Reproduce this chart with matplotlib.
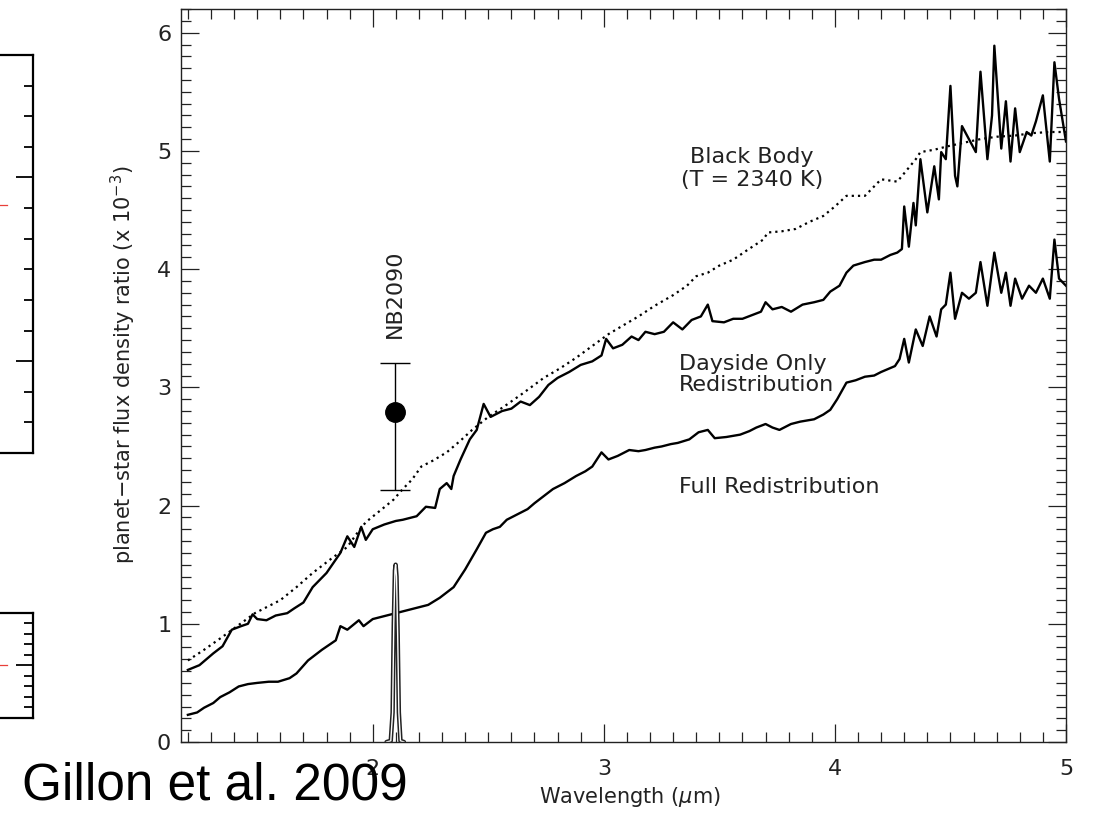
import matplotlib

matplotlib.use("Agg")

import matplotlib.pyplot as plt
from matplotlib.ticker import MultipleLocator, NullFormatter

# Model spectra (planet/star flux density ratio, units of 1e-3) vs wavelength (micron)
DAY_WL = [1.20, 1.25, 1.31, 1.35, 1.39, 1.43, 1.46, 1.48, 1.50, 1.54, 1.58, 1.63, 1.66,
          1.70, 1.74, 1.80, 1.86, 1.89, 1.92, 1.95, 1.97, 2.00, 2.05, 2.10, 2.13, 2.19,
          2.23, 2.27, 2.29, 2.32, 2.34, 2.35, 2.38, 2.42, 2.45, 2.48, 2.51, 2.56, 2.60,
          2.64, 2.68, 2.72, 2.76, 2.80, 2.85, 2.90, 2.95, 2.99, 3.01, 3.04, 3.08, 3.12,
          3.15, 3.18, 3.22, 3.26, 3.30, 3.34, 3.38, 3.42, 3.45, 3.47, 3.52, 3.56, 3.60,
          3.64, 3.68, 3.70, 3.73, 3.77, 3.81, 3.86, 3.91, 3.95, 3.98, 4.02, 4.05, 4.08,
          4.13, 4.17, 4.20, 4.24, 4.27, 4.29, 4.30, 4.32, 4.34, 4.35, 4.37, 4.40, 4.43,
          4.45, 4.46, 4.48, 4.50, 4.52, 4.53, 4.55, 4.58, 4.61, 4.63, 4.66, 4.68, 4.69,
          4.72, 4.74, 4.76, 4.78, 4.80, 4.83, 4.85, 4.87, 4.90, 4.93, 4.95, 4.97, 5.00]
DAY_RATIO = [0.61, 0.65, 0.75, 0.81, 0.95, 0.98, 1.00, 1.08, 1.04, 1.03, 1.07, 1.09, 1.13,
             1.18, 1.31, 1.43, 1.60, 1.74, 1.65, 1.82, 1.71, 1.80, 1.84, 1.87, 1.88, 1.91,
             1.99, 1.98, 2.14, 2.19, 2.14, 2.25, 2.39, 2.56, 2.64, 2.86, 2.75, 2.80, 2.82,
             2.88, 2.85, 2.92, 3.02, 3.08, 3.13, 3.19, 3.22, 3.27, 3.41, 3.33, 3.36, 3.43,
             3.40, 3.47, 3.45, 3.47, 3.55, 3.49, 3.57, 3.60, 3.70, 3.56, 3.55, 3.58, 3.58,
             3.61, 3.64, 3.72, 3.66, 3.68, 3.64, 3.70, 3.72, 3.74, 3.81, 3.86, 3.97, 4.03,
             4.06, 4.08, 4.08, 4.12, 4.14, 4.17, 4.53, 4.19, 4.56, 4.37, 4.93, 4.48, 4.87,
             4.59, 4.99, 4.93, 5.55, 4.79, 4.70, 5.21, 5.10, 4.99, 5.67, 4.93, 5.30, 5.89,
             5.02, 5.42, 4.91, 5.36, 4.99, 5.16, 5.13, 5.25, 5.47, 4.91, 5.75, 5.44, 5.08]

FULL_WL = [1.20, 1.24, 1.27, 1.31, 1.34, 1.38, 1.42, 1.46, 1.50, 1.55, 1.59, 1.64, 1.67,
           1.72, 1.78, 1.84, 1.86, 1.89, 1.94, 1.96, 2.00, 2.04, 2.10, 2.16, 2.20, 2.24,
           2.29, 2.35, 2.40, 2.45, 2.49, 2.52, 2.55, 2.58, 2.61, 2.64, 2.67, 2.70, 2.74,
           2.78, 2.83, 2.88, 2.92, 2.95, 2.99, 3.02, 3.06, 3.11, 3.15, 3.18, 3.22, 3.25,
           3.29, 3.32, 3.37, 3.41, 3.45, 3.48, 3.53, 3.59, 3.63, 3.66, 3.70, 3.73, 3.76,
           3.81, 3.85, 3.91, 3.95, 3.98, 4.01, 4.05, 4.09, 4.13, 4.17, 4.20, 4.26, 4.28,
           4.30, 4.32, 4.35, 4.38, 4.41, 4.44, 4.46, 4.48, 4.50, 4.52, 4.55, 4.58, 4.61,
           4.63, 4.66, 4.69, 4.72, 4.74, 4.76, 4.78, 4.81, 4.84, 4.87, 4.90, 4.93, 4.95,
           4.97, 5.00]
FULL_RATIO = [0.23, 0.25, 0.29, 0.33, 0.38, 0.42, 0.47, 0.49, 0.50, 0.51, 0.51, 0.54, 0.58,
              0.69, 0.78, 0.86, 0.98, 0.95, 1.03, 0.98, 1.04, 1.06, 1.09, 1.12, 1.14, 1.16,
              1.22, 1.31, 1.46, 1.63, 1.77, 1.80, 1.82, 1.88, 1.91, 1.94, 1.97, 2.02, 2.08,
              2.14, 2.19, 2.25, 2.29, 2.33, 2.45, 2.39, 2.42, 2.47, 2.46, 2.47, 2.49, 2.50,
              2.52, 2.53, 2.56, 2.62, 2.64, 2.57, 2.58, 2.60, 2.63, 2.66, 2.69, 2.66, 2.64,
              2.69, 2.71, 2.73, 2.77, 2.81, 2.90, 3.04, 3.06, 3.09, 3.10, 3.13, 3.18, 3.24,
              3.41, 3.21, 3.49, 3.35, 3.60, 3.43, 3.66, 3.70, 3.97, 3.58, 3.80, 3.75, 3.80,
              4.06, 3.69, 4.14, 3.80, 3.97, 3.69, 3.92, 3.75, 3.86, 3.80, 3.92, 3.75, 4.25,
              3.92, 3.86]

BB_WL = [1.20, 1.27, 1.35, 1.42, 1.49, 1.60, 1.67, 1.74, 1.82, 1.89, 1.93, 1.97, 2.04,
         2.09, 2.13, 2.17, 2.21, 2.26, 2.32, 2.38, 2.43, 2.50, 2.57, 2.65, 2.74, 2.81,
         2.88, 2.95, 3.02, 3.08, 3.15, 3.22, 3.30, 3.36, 3.40, 3.45, 3.50, 3.56, 3.62,
         3.69, 3.71, 3.77, 3.83, 3.89, 3.95, 4.00, 4.05, 4.13, 4.20, 4.27, 4.35, 4.37,
         4.43, 4.49, 4.56, 4.63, 4.70, 4.78, 4.85, 4.93, 5.00]
BB_RATIO = [0.69, 0.78, 0.89, 0.99, 1.09, 1.20, 1.31, 1.43, 1.55, 1.65, 1.76, 1.86, 1.97,
            2.05, 2.14, 2.22, 2.33, 2.38, 2.45, 2.55, 2.64, 2.75, 2.84, 2.95, 3.08, 3.16,
            3.25, 3.35, 3.45, 3.52, 3.60, 3.69, 3.78, 3.86, 3.94, 3.97, 4.03, 4.08, 4.16,
            4.25, 4.31, 4.32, 4.34, 4.40, 4.45, 4.53, 4.62, 4.62, 4.76, 4.74, 4.93, 4.99,
            5.01, 5.04, 5.07, 5.10, 5.12, 5.13, 5.15, 5.16, 5.16]

# NB2090 filter transmission (arbitrary scale)
FILTER_WL = [2.060, 2.078, 2.086, 2.091, 2.096, 2.099, 2.103, 2.108, 2.113, 2.120, 2.135]
FILTER_TRANS = [0.0, 0.01, 0.25, 1.00, 1.45, 1.50, 1.40, 0.90, 0.25, 0.01, 0.0]

# Measured occultation depth in the NB2090 band
NB_WL = 2.096
NB_RATIO = 2.79
NB_ERR_LO = 0.66
NB_ERR_HI = 0.42

# Red markers on the neighbouring panels
UPPER_MARK_Y = 8.1
LOWER_MARK_Y = 5.0

FONT = "DejaVu Sans"


def side_panel(fig, rect, ymax, major, mark_y):
    ax = fig.add_axes(rect)
    ax.set_xlim(0, 1)
    ax.set_ylim(0, ymax)
    ax.spines["left"].set_visible(False)
    for side in ("top", "bottom", "right"):
        ax.spines[side].set_linewidth(1.6)
    ax.xaxis.set_visible(False)
    ax.yaxis.tick_right()
    ax.set_yticks(major)
    ax.yaxis.set_minor_locator(MultipleLocator(1))
    ax.yaxis.set_major_formatter(NullFormatter())
    ax.tick_params(axis="y", which="major", direction="in", length=12, width=1.3)
    ax.tick_params(axis="y", which="minor", direction="in", length=6.5, width=1.3)
    ax.plot([0.62, 0.72], [mark_y, mark_y], color="#e8403a", lw=0.9)
    ax.patch.set_alpha(0)


def main():
    fig = plt.figure(figsize=(10.96, 8.23), dpi=100)

    side_panel(fig, [-0.055, 0.4496, 0.085, 0.4836], 13, [3, 9], UPPER_MARK_Y)
    side_panel(fig, [-0.055, 0.1276, 0.085, 0.1276], 10, [5], LOWER_MARK_Y)

    ax = fig.add_axes([0.1651, 0.0984, 0.8075, 0.8906])

    ax.plot(BB_WL, BB_RATIO, color="black", lw=1.6, linestyle=(0, (1, 1.8)))
    ax.plot(DAY_WL, DAY_RATIO, color="black", lw=1.7)
    ax.plot(FULL_WL, FULL_RATIO, color="black", lw=1.7)

    # filter profile drawn as an outlined curve
    ax.plot(FILTER_WL, FILTER_TRANS, color="#222222", lw=3.2, solid_capstyle="round")
    ax.plot(FILTER_WL, FILTER_TRANS, color="white", lw=1.0)

    ax.errorbar([NB_WL], [NB_RATIO], yerr=[[NB_ERR_LO], [NB_ERR_HI]], fmt="o",
                color="black", ms=14, elinewidth=1.0, capsize=11, capthick=1.0)

    ax.set_xlim(1.17, 5.0)
    ax.set_ylim(0, 6.2)
    ax.xaxis.set_major_locator(MultipleLocator(1))
    ax.xaxis.set_minor_locator(MultipleLocator(0.1))
    ax.yaxis.set_major_locator(MultipleLocator(1))
    ax.yaxis.set_minor_locator(MultipleLocator(0.1))
    ax.tick_params(which="both", direction="in", top=True, right=True, width=0.9,
                   colors="#222222", labelsize=16, labelcolor="#222222")
    ax.tick_params(which="major", length=13)
    ax.tick_params(which="minor", length=7)
    ax.tick_params(axis="x", pad=12)
    ax.tick_params(axis="y", pad=7)
    for spine in ax.spines.values():
        spine.set_linewidth(1.0)
        spine.set_color("#222222")

    ax.set_xlabel(r"Wavelength ($\mu$m)", fontsize=15, color="#222222")
    ax.xaxis.set_label_coords(0.507, -0.058)
    ax.set_ylabel(r"planet$-$star flux density ratio (x 10$^{-3}$)", fontsize=15,
                  color="#222222")
    ax.yaxis.set_label_coords(-0.048, 0.515)

    ax.text(3.641, 4.85, "Black Body\n(T = 2340 K)", fontsize=16, ha="center",
            va="center", linespacing=1.15, color="#222222")
    ax.text(3.325, 3.11, "Dayside Only\nRedistribution", fontsize=16, ha="left",
            va="center", linespacing=1.1, color="#222222")
    ax.text(3.325, 2.16, "Full Redistribution", fontsize=16, ha="left", va="center",
            color="#222222")
    ax.text(2.096, 3.79, "NB2090", fontsize=16, rotation=90, ha="center", va="center",
            color="#222222")

    fig.text(0.020, 0.028, "Gillon et al. 2009", fontsize=37, family="Liberation Sans",
             color="black", ha="left", va="baseline")

    fig.savefig("out.png", dpi=100)
    plt.close(fig)


if __name__ == "__main__":
    plt.rcParams["font.family"] = [FONT]
    plt.rcParams["mathtext.fontset"] = "dejavusans"
    main()
